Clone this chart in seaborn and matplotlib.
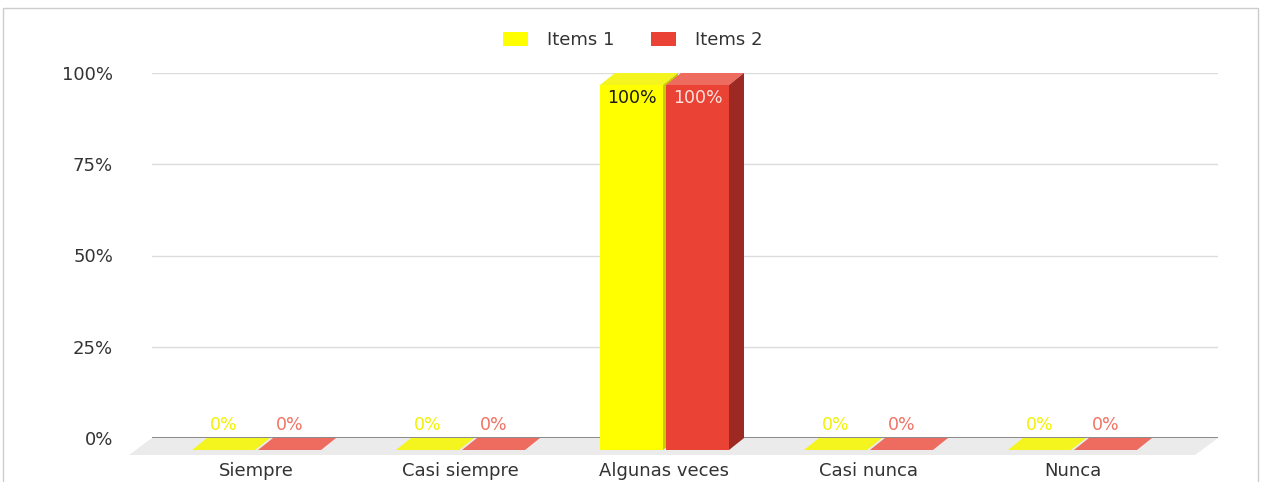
import numpy as np
import pandas as pd
import matplotlib
matplotlib.use("Agg")
import matplotlib.pyplot as plt
from matplotlib.patches import Polygon, Rectangle
import seaborn as sns

# datos
categorias = ["Siempre", "Casi siempre", "Algunas veces", "Casi nunca", "Nunca"]
series = ["Items 1", "Items 2"]
items_1 = [0, 0, 100, 0, 0]
items_2 = [0, 0, 100, 0, 0]
y_ticks = [0, 25, 50, 75, 100]

# estilos (cara frontal, cara superior, cara lateral, etiqueta fuera, etiqueta dentro)
colores = ["#ffff00", "#ea4335"]
colores_top = ["#f4f41e", "#ee6b5f"]
colores_lado = ["#c9c900", "#9c2a22"]
color_etq_fuera = ["#f2f200", "#f07264"]
color_etq_dentro = ["#1a1a1a", "#fde3df"]

df = pd.DataFrame({
    "categoria": categorias * 2,
    "valor": items_1 + items_2,
    "serie": [series[0]] * len(categorias) + [series[1]] * len(categorias),
})

sns.set_theme(style="white")
plt.rcParams["font.family"] = ["DejaVu Sans"]

W, H = 1263, 482
fig = plt.figure(figsize=(W / 100, H / 100), dpi=100)
ax = fig.add_axes([152 / W, 1 - 438 / H, 1066 / W, 365 / H])

sns.barplot(data=df, x="categoria", y="valor", hue="serie", palette=colores,
            width=0.647, gap=0.045, linewidth=0, saturation=1, ax=ax, zorder=3)

ax.set_xlim(-0.586, 4.640)
ax.set_ylim(0, 100)

# profundidad 3D en pixeles -> unidades de datos
px_x = 1066 / (4.640 + 0.586)
px_y = 365 / 100
dx, dy = 15 / px_x, 12 / px_y
fdx, fdy = 23 / px_x, 17 / px_y

# suelo gris
x0, x1 = ax.get_xlim()
ax.add_patch(Polygon([(x0, 0), (x1, 0), (x1 - fdx, -fdy), (x0 - fdx, -fdy)],
                     closed=True, facecolor="#ebebeb", edgecolor="none",
                     clip_on=False, zorder=0.5))
ax.axhline(0, color="#808080", lw=1.3, zorder=1)

for i, cont in enumerate(ax.containers):
    for bar in cont:
        bx, bw, h = bar.get_x(), bar.get_width(), bar.get_height()
        # desplazar cara frontal
        bar.set_x(bx - dx)
        bar.set_y(-dy)
        bar.set_clip_on(False)
        fx0, fx1 = bx - dx, bx + bw - dx
        top = [(fx0, h - dy), (fx1, h - dy), (fx1 + dx, h), (fx0 + dx, h)]
        ax.add_patch(Polygon(top, closed=True, facecolor=colores_top[i],
                             edgecolor="none", clip_on=False, zorder=2))
        if h > 0:
            lado = [(fx1, -dy), (fx1, h - dy), (fx1 + dx, h), (fx1 + dx, 0)]
            ax.add_patch(Polygon(lado, closed=True, facecolor=colores_lado[i],
                                 edgecolor="none", clip_on=False, zorder=2))
            ax.text((fx0 + fx1) / 2, h - dy - 13 / px_y, f"{h:.0f}%",
                    ha="center", va="center", fontsize=12.5,
                    color=color_etq_dentro[i], zorder=5)
        else:
            ax.text((fx0 + fx1) / 2, 13 / px_y, f"{h:.0f}%",
                    ha="center", va="center", fontsize=12.5,
                    color=color_etq_fuera[i], zorder=5)

ax.set_yticks(y_ticks)
ax.set_yticklabels([f"{t}%" for t in y_ticks], fontsize=13, color="#333333")
ax.set_xticks([k - dx for k in range(len(categorias))])
ax.set_xticklabels(categorias, fontsize=13, color="#333333")
ax.tick_params(axis="y", length=0, pad=28)
ax.tick_params(axis="x", length=0, pad=17)
ax.set_xlabel("")
ax.set_ylabel("")
ax.yaxis.grid(True, color="#dcdcdc", lw=1)
ax.set_axisbelow(True)
sns.despine(ax=ax, left=True, bottom=True)

sns.move_legend(ax, "center", bbox_to_anchor=(0.451, 1 + 33 / 365), ncol=2,
                frameon=False, title=None, fontsize=13, handlelength=1.39,
                handleheight=0.83, handletextpad=1.05, columnspacing=2.05)
for t in ax.get_legend().get_texts():
    t.set_color("#333333")

# marco
fig.patches.append(Rectangle((3 / W, -0.01), (1258 - 3) / W, (H - 8) / H + 0.01,
                             transform=fig.transFigure, fill=False,
                             edgecolor="#cccccc", lw=1))

plt.savefig("out.png", dpi=100)
plt.close()
